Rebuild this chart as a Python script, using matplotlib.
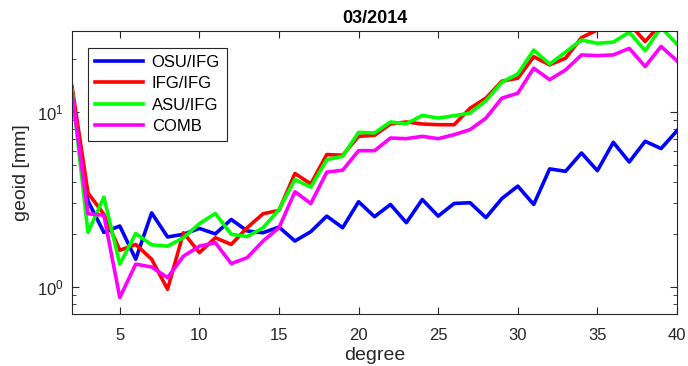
import numpy as np
import matplotlib
matplotlib.use('Agg')
import matplotlib.pyplot as plt

plt.rcParams['font.family'] = ['Liberation Sans', 'DejaVu Sans']
plt.rcParams['mathtext.fontset'] = 'custom'
plt.rcParams['mathtext.rm'] = 'Liberation Sans'

# degree axis
degree = np.arange(2, 41)

# geoid error per degree [mm]
osu_ifg = [13.1, 3.1, 2.05, 2.23, 1.44, 2.65, 1.93, 2.0, 2.16, 2.01, 2.43, 2.09, 2.04, 2.2,
           1.83, 2.07, 2.54, 2.18, 3.07, 2.52, 2.96, 2.33, 3.16, 2.54, 3.0, 3.03, 2.49,
           3.2, 3.77, 2.96, 4.73, 4.58, 5.83, 4.62, 6.71, 5.18, 6.8, 6.18, 7.82]
ifg_ifg = [14.0, 3.45, 2.6, 1.62, 1.75, 1.44, 0.97, 2.04, 1.57, 1.91, 1.75, 2.18, 2.62, 2.74,
           4.45, 3.88, 5.71, 5.66, 7.26, 7.36, 8.54, 8.77, 8.54, 8.46, 8.46, 10.5, 12.0,
           15.0, 15.6, 20.7, 18.6, 20.3, 26.6, 29.5, 33.0, 32.0, 25.3, 32.0, 33.0]
asu_ifg = [13.4, 2.05, 3.26, 1.35, 2.02, 1.74, 1.71, 1.91, 2.3, 2.63, 2.0, 1.94, 2.18, 2.77,
           4.11, 3.72, 5.34, 5.58, 7.65, 7.59, 8.77, 8.57, 9.56, 9.23, 9.52, 9.86, 11.6,
           14.8, 16.5, 22.6, 18.8, 22.0, 25.8, 24.7, 25.1, 28.6, 22.4, 30.5, 24.4]
comb = [12.8, 2.62, 2.57, 0.87, 1.35, 1.3, 1.13, 1.5, 1.71, 1.79, 1.36, 1.47, 1.83, 2.18,
        3.5, 3.0, 4.53, 4.65, 6.01, 6.01, 7.1, 7.04, 7.26, 7.04, 7.42, 7.93, 9.23,
        12.0, 12.8, 17.8, 15.3, 17.4, 21.2, 21.0, 21.2, 23.1, 18.2, 23.7, 19.6]

fig = plt.figure(figsize=(6.88, 3.66), dpi=100)
ax = fig.add_axes([0.1047, 0.142, 0.8793, 0.773])

ax.plot(degree, osu_ifg, color='#0000ff', lw=2.6, label='OSU/IFG')
ax.plot(degree, ifg_ifg, color='#ff0000', lw=2.6, label='IFG/IFG')
ax.plot(degree, asu_ifg, color='#00ff00', lw=2.6, label='ASU/IFG')
ax.plot(degree, comb, color='#ff00ff', lw=2.6, label='COMB')

ax.set_yscale('log')
ax.set_xlim(2, 40)
ax.set_ylim(0.7, 29)
ax.set_xticks([5, 10, 15, 20, 25, 30, 35, 40])

axis_col = '#262626'
for s in ax.spines.values():
    s.set_color(axis_col)
    s.set_linewidth(0.8)
ax.tick_params(which='both', direction='in', top=True, right=True, colors=axis_col,
               labelcolor=axis_col, labelsize=12)
ax.tick_params(which='major', length=5)
ax.tick_params(which='minor', length=3)
ax.tick_params(axis='x', which='both', pad=10)
ax.tick_params(axis='y', which='both', pad=6)

ax.set_xlabel('degree', fontsize=14, color=axis_col, labelpad=3)
ax.set_ylabel('geoid [mm]', fontsize=14, color=axis_col, labelpad=5)
ax.set_title('03/2014', fontsize=13, fontweight='bold', pad=6)

leg = ax.legend(loc='upper left', bbox_to_anchor=(0.027, 0.94), fontsize=12,
                handlelength=2.9, fancybox=False, framealpha=1, borderpad=0.4,
                labelspacing=0.39, handletextpad=0.5, borderaxespad=0)
leg.get_frame().set_edgecolor(axis_col)
leg.get_frame().set_linewidth(0.8)

fig.savefig('out.png', dpi=100)
